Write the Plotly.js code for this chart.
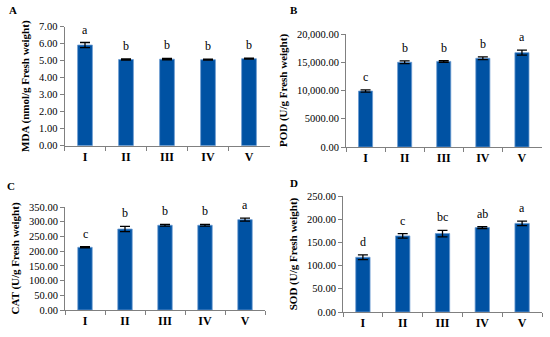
<!DOCTYPE html>
<html><head><meta charset="utf-8">
<script src="https://cdn.plot.ly/plotly-3.0.1.min.js"></script>
<style>html,body{margin:0;padding:0;background:#fff}#c{width:550px;height:337px}</style>
</head><body><div id="c"></div>
<script>
const categories = ["I","II","III","IV","V"];
const mdaValues = [5.92, 5.07, 5.09, 5.06, 5.12];
const mdaErrors = [0.15, 0.03, 0.04, 0.03, 0.03];
const mdaLetters = ["a","b","b","b","b"];
const podValues = [9900, 15000, 15150, 15700, 16700];
const podErrors = [200, 250, 150, 250, 450];
const podLetters = ["c","b","b","b","a"];
const catValues = [213, 275, 288, 288, 307];
const catErrors = [2, 9, 3, 3, 5];
const catLetters = ["c","b","b","b","a"];
const sodValues = [118, 164, 169, 182, 191];
const sodErrors = [5, 5, 7, 2, 5];
const sodLetters = ["d","c","bc","ab","a"];
const mdaTicks = [0,1,2,3,4,5,6,7];
const mdaTickText = ["0.00","1.00","2.00","3.00","4.00","5.00","6.00","7.00"];
const podTicks = [0,5000,10000,15000,20000];
const podTickText = ["0.00","5000.00","10,000.00","15,000.00","20,000.00"];
const catTicks = [0,50,100,150,200,250,300,350];
const catTickText = ["0.00","50.00","100.00","150.00","200.00","250.00","300.00","350.00"];
const sodTicks = [0,50,100,150,200,250];
const sodTickText = ["0.00","50.00","100.00","150.00","200.00","250.00"];

const W=550,H=337;
const FONT="'Liberation Serif', 'Times New Roman', serif";
const BAR="#0052a3";
function px(a,b){return [a/W,b/W];}
function py(bot,top){return [(H-bot)/H,(H-top)/H];}

const panels = [
 {v:mdaValues,e:mdaErrors,l:mdaLetters,tv:mdaTicks,tt:mdaTickText,max:7,title:"MDA (nmol/g Fresh weight)",xd:px(64.5,269.5),yd:py(145.7,26.7),lab:"A",lx:13,ly:10},
 {v:podValues,e:podErrors,l:podLetters,tv:podTicks,tt:podTickText,max:20000,title:"POD (U/g Fresh weight)",xd:px(346,541.5),yd:py(147,34),lab:"B",lx:294,ly:10},
 {v:catValues,e:catErrors,l:catLetters,tv:catTicks,tt:catTickText,max:350,title:"CAT (U/g Fresh weight)",xd:px(65,265),yd:py(310,207),lab:"C",lx:11,ly:186},
 {v:sodValues,e:sodErrors,l:sodLetters,tv:sodTicks,tt:sodTickText,max:250,title:"SOD (U/g Fresh weight)",xd:px(343,542),yd:py(312,196),lab:"D",lx:294,ly:183}
];

const data=[]; const layout={width:W,height:H,margin:{l:0,r:0,t:0,b:0},showlegend:false,
 paper_bgcolor:"#fff",plot_bgcolor:"rgba(0,0,0,0)",font:{family:FONT,color:"#000"},annotations:[]};

panels.forEach((p,i)=>{
 const n=i===0?"":String(i+1);
 const xa="x"+n, ya="y"+n;
 data.push({type:"bar",x:categories,y:p.v,xaxis:xa,yaxis:ya,width:0.36,
  marker:{color:BAR,line:{color:"#6b9bd0",width:0.8}},
  error_y:{type:"data",array:p.e,visible:true,color:"#000",thickness:1.3,width:5},hoverinfo:"none"});
 categories.forEach((c,k)=>{
  layout.annotations.push({xref:xa,yref:ya,x:c,y:p.v[k]+p.e[k],text:p.l[k],showarrow:false,
   xanchor:"center",yanchor:"bottom",yshift:4,font:{family:FONT,size:12,color:"#000"}});
 });
 layout["xaxis"+n]={domain:p.xd,anchor:ya,type:"category",showline:true,linecolor:"#808080",linewidth:1,
  ticks:"outside",tickson:"boundaries",ticklen:4,tickcolor:"#808080",showgrid:false,zeroline:false,
  tickfont:{family:FONT,size:12,color:"#000",weight:"bold"},range:[-0.5,4.5]};
 layout["yaxis"+n]={domain:p.yd,anchor:xa,range:[0,p.max],showline:true,linecolor:"#808080",linewidth:1,
  ticks:"outside",ticklen:4,tickcolor:"#808080",showgrid:false,zeroline:false,tickvals:p.tv,ticktext:p.tt,
  tickfont:{family:FONT,size:10.5,color:"#000"},
  title:{text:"<b>"+p.title+"</b>",font:{family:FONT,size:11,color:"#000"},standoff:7}};
 layout.annotations.push({xref:"paper",yref:"paper",x:p.lx/W,y:(H-p.ly)/H,text:"<b>"+p.lab+"</b>",
  showarrow:false,xanchor:"center",yanchor:"middle",font:{family:FONT,size:11,color:"#000"}});
});

Plotly.newPlot("c",data,layout,{staticPlot:true});
</script></body></html>
